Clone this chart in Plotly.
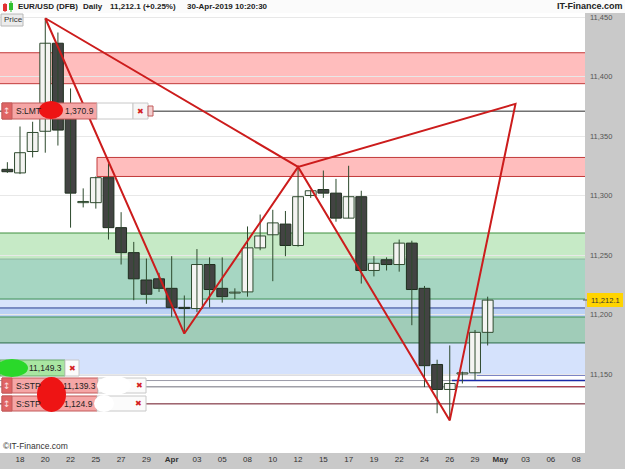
import plotly.graph_objects as go

# ---------------- data ----------------
bar_dates = ["15-Mar", "18-Mar", "19-Mar", "20-Mar", "21-Mar", "22-Mar", "24-Mar", "25-Mar",
             "26-Mar", "27-Mar", "28-Mar", "29-Mar", "31-Mar", "01-Apr", "02-Apr", "03-Apr",
             "04-Apr", "05-Apr", "07-Apr", "08-Apr", "09-Apr", "10-Apr", "11-Apr", "12-Apr",
             "14-Apr", "15-Apr", "16-Apr", "17-Apr", "18-Apr", "19-Apr", "21-Apr", "22-Apr",
             "23-Apr", "24-Apr", "25-Apr", "26-Apr", "28-Apr", "29-Apr", "30-Apr"]
bar_pos = list(range(-1, 38))
opens = [11322, 11319, 11337, 11354, 11428, 11366, 11294, 11294, 11315, 11273, 11252, 11229,
         11230, 11222, 11206, 11205, 11242, 11222, 11218, 11219, 11256, 11267, 11276, 11258,
         11300, 11305, 11302, 11281, 11299, 11237, 11246, 11242, 11260, 11222, 11158, 11137,
         11150, 11151, 11185]
highs = [11328, 11358, 11362, 11449, 11437, 11390, 11306, 11316, 11327, 11286, 11261, 11247,
         11235, 11249, 11216, 11255, 11248, 11248, 11222, 11274, 11284, 11288, 11287, 11324,
         11304, 11321, 11314, 11325, 11304, 11249, 11248, 11263, 11262, 11224, 11162, 11174,
         11152, 11187, 11215]
lows = [11319, 11318, 11332, 11336, 11342, 11273, 11290, 11289, 11263, 11242, 11212, 11209,
        11219, 11198, 11184, 11202, 11206, 11210, 11213, 11215, 11254, 11228, 11249, 11257,
        11298, 11298, 11278, 11281, 11226, 11232, 11237, 11236, 11191, 11139, 11117, 11111,
        11142, 11145, 11174]
closes = [11320, 11336, 11353, 11428, 11355, 11302, 11295, 11315, 11273, 11252, 11230, 11217,
          11222, 11206, 11205, 11242, 11221, 11215, 11218.6, 11256, 11266, 11277, 11258, 11299,
          11304, 11302, 11281, 11299, 11237, 11243, 11242, 11260, 11221, 11157, 11137, 11142,
          11151, 11185, 11212.1]

tick_pos = [0, 2, 4, 6, 8, 10, 12, 14, 16, 18, 20, 22, 24, 26, 28, 30, 32, 34, 36, 38, 40, 42, 44]
tick_text = ["18", "20", "22", "25", "27", "29", "<b>Apr</b>", "03", "05", "08", "10", "12",
             "15", "17", "19", "22", "24", "26", "29", "<b>May</b>", "03", "06", "08"]

y_ticks = [11150, 11200, 11250, 11300, 11350, 11400, 11450]
y_tick_text = ["11,150", "11,200", "11,250", "11,300", "11,350", "11,400", "11,450"]

# harmonic pattern points X, A, B, C, D
pattern_pos = [2, 13, 22, 34, 39.2]
pattern_price = [11449, 11184, 11324, 11111, 11377]
pattern_path = [0, 1, 2, 3, 4, 2, 0]

# price zones (low, high)
zone_lo = [11394, 11316, 11246.6, 11213.0, 11205.5, 11197.9, 11176.1, 11149.3]
zone_hi = [11420, 11332, 11268.5, 11246.6, 11213.0, 11205.5, 11197.9, 11176.1]

# order / level lines
lmt_price = 11370.9
stp1_price = 11139.3
stp2_price = 11124.9
tgt_price = 11149.3
aux_price = 11144.5
last_price = 11212.1

# ---------------- geometry helpers ----------------
W, H = 625, 469
ML, MR, MT, MB = 0, 40, 13, 16
PW, PH = W - ML - MR, H - MT - MB
XR = [-1.582, 44.70]
YR = [11083.6, 11453.4]


def PX(px):
    return (px - ML) / PW


def PY(py):
    return (H - MB - py) / PH


def XD(px):
    return XR[0] + (px - ML) / PW * (XR[1] - XR[0])


shapes = []
annotations = []


def rect(x0, y0, x1, y1, fill, line=None, lw=1, layer="above", kind="rect"):
    shapes.append(dict(type=kind, xref="paper", yref="paper", x0=PX(x0), x1=PX(x1),
                       y0=PY(y1), y1=PY(y0), fillcolor=fill, layer=layer,
                       line=dict(color=line if line else fill, width=lw if line else 0)))


def text(px, py, s, size=8, color="#222", anchor="left", family="Arial, Liberation Sans"):
    annotations.append(dict(xref="paper", yref="paper", x=PX(px), y=PY(py), text=s,
                            showarrow=False, xanchor=anchor, yanchor="middle",
                            borderpad=0, font=dict(size=size, color=color, family=family)))


def hline(price, color, width=1, x0=None, dash="solid", layer="below"):
    shapes.append(dict(type="line", xref="x", yref="y",
                       x0=XR[0] if x0 is None else x0, x1=XR[1], y0=price, y1=price,
                       line=dict(color=color, width=width, dash=dash), layer=layer))


def zone(lo, hi, fill, x0=None):
    shapes.append(dict(type="rect", xref="x", yref="y",
                       x0=XR[0] if x0 is None else x0, x1=XR[1], y0=lo, y1=hi,
                       fillcolor=fill, line=dict(width=0), layer="below"))


# ---------------- zones ----------------
zone_fill = ["#ffbdbd", "#ffbdbd", "#c6eac6", "#a6d6c2", "#d8e4fb", "#bcd2f5", "#a0ccb8", "#d5e2fc"]
zone_x0 = [None, XD(97), None, None, None, None, None, None]
for lo, hi, f, x0 in zip(zone_lo, zone_hi, zone_fill, zone_x0):
    zone(lo, hi, f, x0)

# zone borders
hline(zone_hi[0], "#c23a3a")
hline(zone_lo[0], "#c23a3a")
hline(zone_hi[1], "#c23a3a", x0=XD(97))
hline(zone_lo[1], "#c23a3a", x0=XD(97))
shapes.append(dict(type="line", xref="x", yref="y", x0=XD(97), x1=XD(97),
                   y0=zone_lo[1], y1=zone_hi[1], line=dict(color="#c23a3a", width=1), layer="below"))
hline(zone_hi[2], "#3f8f3f")
hline(zone_lo[2], "#8fb7a0")
hline(zone_hi[4], "#3f8f55")
hline(zone_lo[4], "#2a3f8f")
hline(zone_lo[5], "#3f8f55")
hline(zone_lo[6], "#2c6a48")

# order lines
hline(lmt_price, "#2a2a2a")
hline(tgt_price, "#9a9aa8")
hline(tgt_price, "#1a2aa8", width=1.5, x0=XD(477))
hline(aux_price, "#9a9aa8")
hline(aux_price, "#1a2aa8", width=1.5, x0=XD(452))
hline(stp1_price, "#a0a0a8", width=1.5)
hline(stp1_price, "#b02838", width=1, x0=XD(477))
hline(stp2_price, "#6a1020")

# ---------------- traces ----------------
fig = go.Figure()

wx, wy = [], []
for p, h, l in zip(bar_pos, highs, lows):
    wx += [p, p, None]
    wy += [l, h, None]
fig.add_trace(go.Scatter(x=wx, y=wy, mode="lines", line=dict(color="#2d4a2d", width=1),
                         hoverinfo="skip"))

up_x, up_b, up_h, dn_x, dn_b, dn_h = [], [], [], [], [], []
for p, o, c in zip(bar_pos, opens, closes):
    base = min(o, c)
    hgt = max(abs(c - o), 0.8)
    if c >= o:
        up_x.append(p); up_b.append(base); up_h.append(hgt)
    else:
        dn_x.append(p); dn_b.append(base); dn_h.append(hgt)

fig.add_trace(go.Bar(x=up_x, y=up_h, base=up_b, width=0.86,
                     marker=dict(color="#f4f4f2", line=dict(color="#2f4a2f", width=1))))
fig.add_trace(go.Bar(x=dn_x, y=dn_h, base=dn_b, width=0.86,
                     marker=dict(color="#434343", line=dict(color="#1e2e1e", width=1))))

fig.add_trace(go.Scatter(x=[pattern_pos[i] for i in pattern_path],
                         y=[pattern_price[i] for i in pattern_path],
                         mode="lines", line=dict(color="#cc1c1c", width=2), hoverinfo="skip"))

# ---------------- chrome ----------------
# header
rect(0, 0, W, MT, "#fbfbfb", layer="above")
rect(3, 4, 7, 11, "#e03030")
shapes.append(dict(type="line", xref="paper", yref="paper", x0=PX(5), x1=PX(5), y0=PY(12), y1=PY(3),
                   line=dict(color="#e03030", width=1), layer="above"))
rect(9, 3, 13, 10, "#30c030")
shapes.append(dict(type="line", xref="paper", yref="paper", x0=PX(11), x1=PX(11), y0=PY(12), y1=PY(1),
                   line=dict(color="#30c030", width=1), layer="above"))
text(17, 7, "<b>EUR/USD (DFB)</b>", size=8)
text(82, 7, "<b>Daily</b>", size=8)
text(109, 7, "<b>11,212.1 (+0.25%)</b>", size=8)
text(186, 7, "<b>30-Apr-2019 10:20:30</b>", size=8)
text(624, 6, "<b>IT-Finance.com</b>", size=9, anchor="right", color="#222")

# "Price" tag
rect(1, 14, 23, 26, "#ececec", line="#b8b8b8")
text(3, 20, "Price", size=8, color="#333")

# copyright
text(2, 446, "©IT-Finance.com", size=8.5, color="#333")

# last price tag
shapes.append(dict(type="line", xref="paper", yref="paper", x0=PX(583), x1=PX(587),
                   y0=PY(300), y1=PY(300), line=dict(color="#555", width=1), layer="above"))
rect(587, 293, 623, 307, "#ffd400")
text(605, 300, "11,212.1", size=7.5, color="#333", anchor="center")

# S:LMT order tag
rect(2, 103, 97, 119, "#f5a6a6", line="#c25a5a")
rect(2, 103, 12, 119, "#e06464", line="#c25a5a")
text(7, 111, "↕", size=9, color="#fbe0e0", anchor="center", family="DejaVu Sans")
text(15, 111, "S:LMT", size=8.5, color="#222")
rect(39, 101, 63, 119, "#ee1414", kind="circle")
text(95, 111, "1,370.9", size=8.5, color="#222", anchor="right")
rect(97, 103, 133, 119, "#ffffff", line="#c8c8c8")
rect(133, 103, 148, 119, "#f6f6f6", line="#c8c8c8")
text(140.5, 111, "✖", size=8, color="#d42020", anchor="center", family="DejaVu Sans")
rect(148, 106, 153, 116, "#f3d0d0", line="#c25a5a")

# green target tag
rect(0, 360, 65, 376, "#a9e6a2", line="#6aa86a")
rect(-4, 359, 28, 377, "#2ad82a", kind="circle")
text(63, 368, "11,149.3", size=8.5, color="#222", anchor="right")
rect(65, 360, 79, 376, "#fbfbfb", line="#c8c8c8")
text(72, 368, "✖", size=8, color="#d42020", anchor="center", family="DejaVu Sans")

# S:STP order tags
rect(2, 378, 98, 393, "#f5a6a6", line="#c25a5a")
rect(2, 378, 12, 393, "#e06464", line="#c25a5a")
text(7, 385.5, "↕", size=9, color="#fbe0e0", anchor="center", family="DejaVu Sans")
text(15, 385.5, "S:STP", size=8.5, color="#222")
rect(98, 378, 146, 393, "#fbfbfb", line="#c8c8c8")
rect(97, 376, 131, 395, "#ffffff", kind="circle")
text(139, 385.5, "✖", size=8, color="#d42020", anchor="center", family="DejaVu Sans")
text(97, 385.5, "11,139.3", size=8.5, color="#222", anchor="right")

rect(2, 396, 97, 411, "#f5a6a6", line="#c25a5a")
rect(2, 396, 12, 411, "#e06464", line="#c25a5a")
text(7, 403.5, "↕", size=9, color="#fbe0e0", anchor="center", family="DejaVu Sans")
text(15, 403.5, "S:STP", size=8.5, color="#222")
rect(97, 396, 146, 411, "#fbfbfb", line="#c8c8c8")
rect(94, 395, 114, 412, "#ffffff", kind="circle")
text(138, 403.5, "✖", size=8, color="#d42020", anchor="center", family="DejaVu Sans")
text(94, 403.5, "1,124.9", size=8.5, color="#222", anchor="right")

# censor blob over both stop tags
rect(37, 377, 66, 412, "#ee1414", kind="circle")

fig.update_layout(
    width=W, height=H,
    margin=dict(l=ML, r=MR, t=MT, b=MB, pad=0),
    paper_bgcolor="#c9c9c9", plot_bgcolor="#ffffff",
    showlegend=False, barmode="overlay",
    font=dict(family="Arial, Liberation Sans", size=8, color="#333"),
    shapes=shapes, annotations=annotations,
    xaxis=dict(range=XR, tickvals=tick_pos, ticktext=tick_text, showgrid=False, zeroline=False,
               showline=False, ticks="", tickfont=dict(size=8, color="#333"), fixedrange=True),
    yaxis=dict(range=YR, side="right", tickvals=y_ticks, ticktext=y_tick_text, showgrid=True,
               gridcolor="#e8e8e8", zeroline=False, showline=False, ticks="",
               tickfont=dict(size=7.5, color="#555"), ticklabelstandoff=4, fixedrange=True),
)

fig.write_html("out.html")
